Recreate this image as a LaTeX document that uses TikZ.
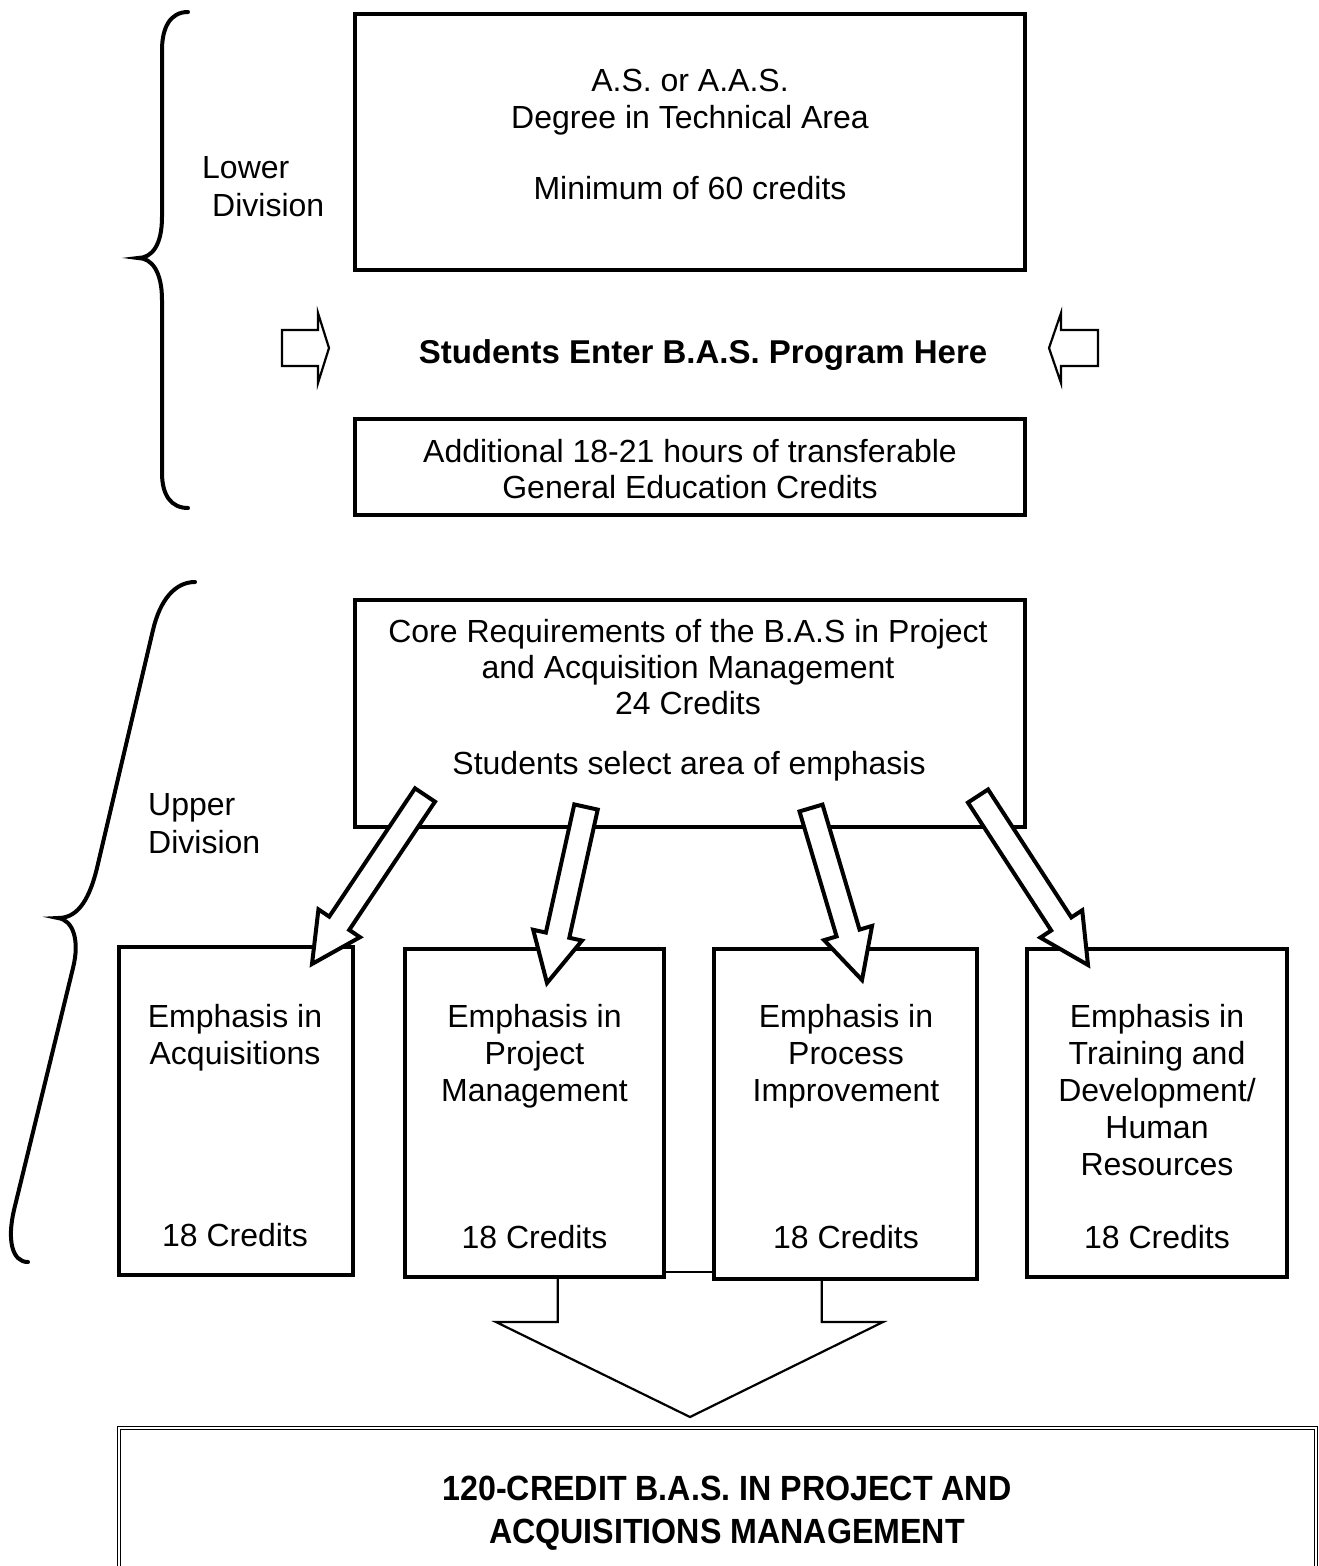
\documentclass[tikz,border=0pt]{standalone}
\usepackage{fontspec}
\setmainfont{Liberation Sans}
\newfontfamily\nbf{Liberation Sans}[FakeStretch=0.92]
\usetikzlibrary{calc}
\newcommand\regf{\fontsize{32}{37}\selectfont}
\newcommand\bldf{\fontsize{33}{38}\selectfont\bfseries}
\newcommand\finf{\nbf\fontsize{35}{42}\selectfont\bfseries}
\tikzset{
  box/.style={draw, line width=4.5pt, inner sep=0pt, outer sep=0pt},
  tx/.style={font=\regf, anchor=base, inner sep=0pt},
  hol/.style={draw, fill=white, line width=4pt, line join=miter},
  thinline/.style={draw, line width=2.2pt, line join=miter},
  bracestyle/.style={draw, line width=4pt, line cap=round},
}
\newcommand\hollowarrow[2]{%
  \path ($(#2)!49pt!(#1)$) coordinate (nk);
  \draw[hol] ($(#1)!12pt!90:(#2)$) -- ($(nk)!12pt!-90:(#1)$) -- ($(nk)!25pt!-90:(#1)$) -- (#2)
    -- ($(nk)!25pt!90:(#1)$) -- ($(nk)!12pt!90:(#1)$) -- ($(#1)!12pt!-90:(#2)$) -- cycle;}
\begin{document}
\begin{tikzpicture}[x=1pt,y=-1pt]
\useasboundingbox (0,0) rectangle (1319,1566);
\clip (0,0) rectangle (1319,1566);
\fill[white] (0,0) rectangle (1319,1566);

% braces
\draw[bracestyle] (188,12) .. controls (170,12) and (162,28) .. (162,50) -- (162,217)
  .. controls (162,245) and (152,258) .. (138,258) .. controls (152,258) and (162,272) .. (162,300)
  -- (162,473) .. controls (162,495) and (171,508) .. (188,508);
\draw[bracestyle] (195,582) .. controls (175,582) and (160,600) .. (153,630) -- (97,868)
  .. controls (88,905) and (75,918) .. (58,918) .. controls (73,920) and (80,940) .. (73,968)
  -- (14,1210) .. controls (7,1240) and (12,1262) .. (28,1262);

% labels
\node[tx, anchor=base west] (lw1) at (202,178) {Lower};
\node[tx, anchor=base west] (lw2) at (212,216) {Division};
\node[tx, anchor=base west] (up1) at (148,815) {Upper};
\node[tx, anchor=base west] (up2) at (148,853) {Division};

% top box
\node[box, minimum width=670pt, minimum height=256pt] (asbox) at (690,142) {};
\node[tx] (as1) at (690,91) {A.S. or A.A.S.};
\node[tx] (as2) at (690,128) {Degree in Technical Area};
\node[tx] (as3) at (690,199) {Minimum of 60 credits};

% enter arrows
\draw[thinline] (282,330) -- (318,330) -- (318,313) -- (329,348) -- (318,383) -- (318,366) -- (282,366) -- cycle;
\draw[thinline] (1098,330) -- (1061,330) -- (1061,313) -- (1049,348) -- (1061,383) -- (1061,366) -- (1098,366) -- cycle;
\node[tx, font=\bldf] (enter) at (703,363) {Students Enter B.A.S. Program Here};

% additional box
\node[box, minimum width=670pt, minimum height=96pt] (addbox) at (690,467) {};
\node[tx] (ad1) at (690,462) {Additional 18-21 hours of transferable};
\node[tx] (ad2) at (690,498) {General Education Credits};

% core box
\node[box, minimum width=670pt, minimum height=227pt] (core) at (690,713.5) {};
\node[tx] (co1) at (688,642) {Core Requirements of the B.A.S in Project};
\node[tx] (co2) at (688,678) {and Acquisition Management};
\node[tx] (co3) at (688,714) {24 Credits};
\node[tx] (co4) at (689,774) {Students select area of emphasis};

% emphasis boxes
\node[box, minimum width=234pt, minimum height=328pt] (e1) at (236,1111) {};
\node[box, minimum width=259pt, minimum height=328pt] (e2) at (534.5,1113) {};
\node[box, minimum width=263pt, minimum height=330pt] (e3) at (845.5,1114) {};
\node[box, minimum width=260pt, minimum height=328pt] (e4) at (1157,1113) {};

\node[tx] (t11) at (235,1027) {Emphasis in};
\node[tx] (t12) at (235,1064) {Acquisitions};
\node[tx] (t13) at (235,1246) {18 Credits};

\node[tx] (t21) at (534.5,1027) {Emphasis in};
\node[tx] (t22) at (534.5,1064) {Project};
\node[tx] (t23) at (534.5,1101) {Management};
\node[tx] (t24) at (534.5,1248) {18 Credits};

\node[tx] (t31) at (846,1027) {Emphasis in};
\node[tx] (t32) at (846,1064) {Process};
\node[tx] (t33) at (846,1101) {Improvement};
\node[tx] (t34) at (846,1248) {18 Credits};

\node[tx] (t41) at (1157,1027) {Emphasis in};
\node[tx] (t42) at (1157,1064) {Training and};
\node[tx] (t43) at (1157,1101) {Development/};
\node[tx] (t44) at (1157,1138) {Human};
\node[tx] (t45) at (1157,1175) {Resources};
\node[tx] (t46) at (1157,1248) {18 Credits};

% hollow arrows from core box to emphasis boxes
\coordinate (a1t) at (425,795);  \coordinate (a1h) at (312,964);
\coordinate (a2t) at (586,807);  \coordinate (a2h) at (547,983);
\coordinate (a3t) at (811,808);  \coordinate (a3h) at (862,980);
\coordinate (a4t) at (978,796);  \coordinate (a4h) at (1088,965);
\hollowarrow{a1t}{a1h}
\hollowarrow{a2t}{a2h}
\hollowarrow{a3t}{a3h}
\hollowarrow{a4t}{a4h}

% link between box 2 and 3
\draw[line width=2pt] (e2.east |- 0,1272) -- (e3.west |- 0,1272);

% big down arrow
\coordinate (stemL) at ($(e2.south west)!0.59!(e2.south east)$);
\coordinate (stemR) at ($(e3.south west)!0.41!(e3.south east)$);
\coordinate (tipB) at (690,1417);
\draw[thinline] (stemL) -- (stemL |- 0,1322) -- (496,1322) -- (tipB) -- (883,1322) -- (stemR |- 0,1322) -- (stemR);

% final box
\node[draw, double, line width=1.3pt, double distance=1.8pt, inner sep=0pt, outer sep=0pt,
      minimum width=1197pt, minimum height=200pt] (final) at (717.5,1528) {};
\node[tx, font=\finf] (f1) at (727,1500) {120-CREDIT B.A.S. IN PROJECT AND};
\node[tx, font=\finf] (f2) at (727,1543) {ACQUISITIONS MANAGEMENT};
\end{tikzpicture}
\end{document}
